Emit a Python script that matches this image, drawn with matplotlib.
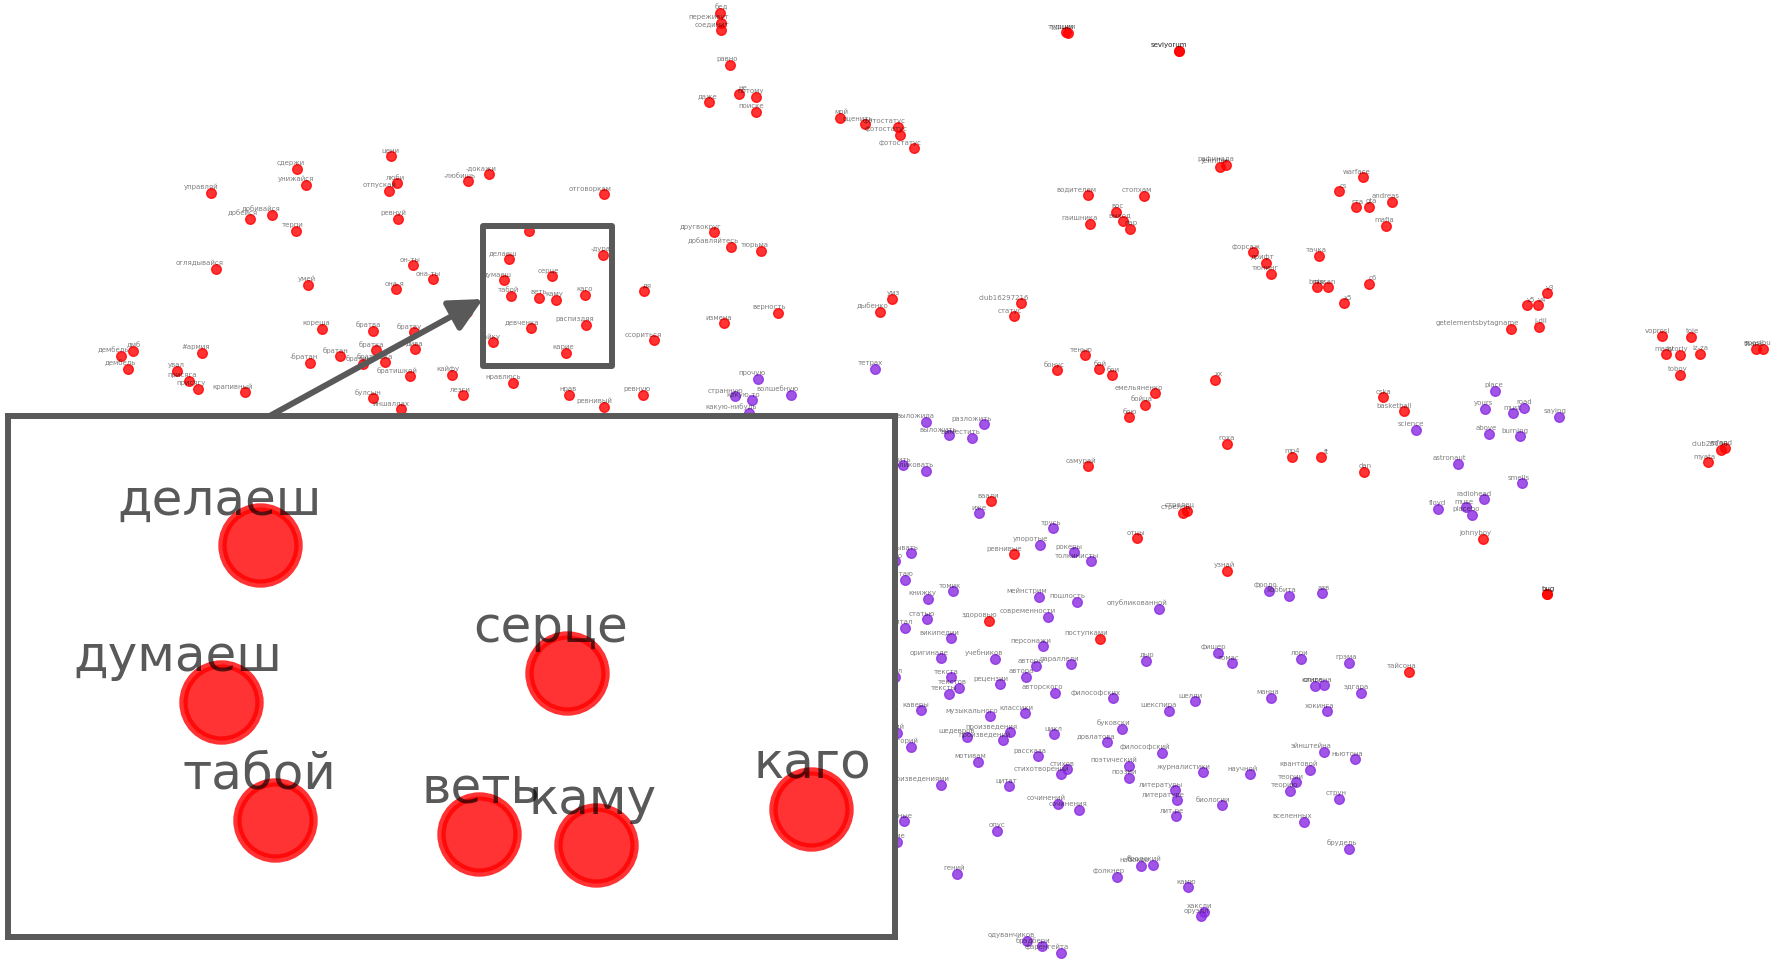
import matplotlib
matplotlib.use("Agg")
import matplotlib.pyplot as plt
from matplotlib.patches import Rectangle

W, H = 1777, 961

# points, in picture pixels
red_words = ["цени", "сдержи", "унижайся", "люби", "отпускай", "-любишь", "управляй", "добейся", "добивайся", "терпи",
             "ревнуй", "оглядывайся", "умей", "он-ты", "она-ты", "она-я", "кореша", "братва", "братву", "братка",
             "-братан", "братан", "братик", "братишка", "дива", "братишкой", "кайфу", "булсын", "иншаллах", "лезги",
             "дембель", "дмб", "дембель", "#армия", "увал", "присяга", "присягу", "крапивный", "малая",
             "бед", "переживут", "соединит", "равно", "даже", "не", "потому", "поиске", "мой", "оценить",
             "фотостатус", "фотостатус", "фотостатус", "-докажи", "отговоркам", "разные", "делаеш", "думаеш", "серце", "табой",
             "веть", "каму", "каго", "-дура", "девченка", "распиздяя", "зайку", "карие", "дя", "ссориться",
             "другвокруг", "добавляйтесь", "тюрьма", "измена", "верность", "дыбенко", "умз", "нравлюсь", "нрав", "ревную",
             "ревнивый", "турции", "турции", "seviyorum", "seviyorum", "Jennifer", "рафинада", "warface", "cs", "гта",
             "gta", "andreas", "mafia", "водителем", "стопхам", "гаишника", "вос", "выход", "пар", "форсаж",
             "дрифт", "тюнинг", "тачка", "bmw", "nissan", "с6", "х5", "club16297216", "статус", "тенью",
             "бонус", "бой", "бои", "хх", "емельяненко", "бойца", "бою", "cska", "basketball", "самурай",
             "гоха", "mp4", "ft", "dan", "ваали", "ревнивые", "отцы", "стрелец", "стрелец", "узнай",
             "здоровью", "поступками", "тайсона", "v3", "v5", "v4", "getelementsbytagname", "j-dil", "johnyboy", "voprosi",
             "toje", "many", "istoriy", "iz-za", "toboy", "thank", "spasibu", "club25190", "yafand", "myata",
             "bug", "bug"]
red_x = [391, 297, 306, 397, 389, 468, 211, 250, 272, 296,
         398, 216, 308, 413, 433, 396, 322, 373, 414, 376,
         310, 340, 363, 385, 415, 410, 452, 373, 401, 463,
         121, 133, 128, 202, 177, 189, 198, 245, 467,
         720, 721, 721, 730, 709, 739, 756, 756, 840, 865,
         898, 900, 914, 489, 604, 529, 509, 503.5, 551.5, 511,
         539.3, 555.5, 585.3, 603, 531, 586, 493, 566, 644, 654,
         714, 731, 761, 724, 778, 880, 892, 513, 569, 643,
         604, 1066, 1068, 1179, 1179, 1220, 1226, 1363, 1339, 1356,
         1369, 1392, 1386, 1088, 1144, 1090, 1116, 1123, 1130, 1253,
         1266, 1271, 1319, 1317, 1328, 1369, 1344, 1021, 1014, 1085,
         1057, 1099, 1112, 1215, 1155, 1145, 1129, 1383, 1404, 1088,
         1227, 1292, 1321, 1364, 991, 1014, 1137, 1187, 1183, 1227,
         989, 1100, 1409, 1547, 1527, 1538, 1511, 1539, 1483, 1662,
         1691, 1666, 1680, 1700, 1680, 1756, 1763, 1721, 1725, 1708,
         1547, 1547]
red_y = [156, 169, 185, 183, 191, 181, 193, 219, 215, 231,
         219, 269, 285, 265, 279, 289, 329, 331, 332, 350,
         363, 356, 364, 362, 349, 376, 375, 398, 409, 395,
         356, 351, 369, 353, 371, 381, 389, 392, 312,
         13, 23, 30, 65, 102, 94, 97, 112, 118, 124,
         127, 135, 148, 174, 194, 231, 258.6, 280, 276, 296,
         298, 299.5, 294.6, 255, 328, 325, 342, 353, 291, 340,
         232, 247, 251, 323, 313, 312, 299, 383, 395, 395,
         407, 32, 33, 51, 51, 167, 165, 177, 191, 207,
         207, 202, 226, 195, 196, 224, 212, 221, 229, 252,
         263, 274, 256, 287, 287, 284, 303, 303, 316, 355,
         370, 369, 375, 380, 393, 405, 417, 397, 411, 466,
         444, 457, 457, 472, 501, 554, 538, 511, 513, 571,
         621, 639, 672, 293, 305, 305, 329, 327, 539, 336,
         337, 354, 355, 354, 375, 349, 349, 450, 448, 462,
         594, 594]

purple_words = ["тетрах", "прочую", "странную", "какую-то", "волшебную", "какую-нибудь", "выложила", "разложить", "выложить", "выместить",
                "запостить", "опубликовать", "иже", "трусь", "упоротые", "рокеры", "толкинисты", "зачитывать", "чтиво", "читаю",
                "томик", "книжку", "мейнстрим", "пошлость", "опубликованной", "статью", "читал", "современности", "википедии", "персонажи",
                "оригинале", "учебников", "авторы", "параллели", "дыр", "фишер", "томас", "фродо", "хоббита", "азв",
                "автора", "текста", "рецензии", "текстов", "тексты", "журнал", "авторского", "философских", "шелли", "шекспира",
                "манна", "каверы", "музыкального", "классики", "сценарий", "аллегорий", "шедевров", "произведения", "произведений", "цикл",
                "буковски", "довлатова", "философский", "рассказа", "мотивам", "стихов", "стихотворений", "поэтический", "поэзии", "журналистики",
                "научной", "произведениями", "цитат", "литературы", "литературе", "биологии", "сочинений", "сочинения", "лит-ре", "важные",
                "чтение", "опус", "гений", "фолкнер", "набоков", "бродский", "камю", "хаксли", "оруэлл", "одуванчиков",
                "брэдбери", "фаренгейта", "лори", "грэма", "кинга", "стивена", "эдгара", "хокинга", "эйнштейна", "ньютона",
                "квантовой", "теории", "теорию", "струн", "вселенных", "брудель", "place", "yours", "must", "road",
                "saying", "science", "above", "burning", "astronaut", "smells", "radiohead", "muse", "placebo", "floyd"]
purple_x = [875, 758, 735, 752, 791, 749, 926, 984, 949, 972,
            903, 926, 979, 1053, 1040, 1074, 1091, 911, 895, 905,
            953, 928, 1039, 1077, 1159, 927, 905, 1048, 951, 1043,
            941, 995, 1036, 1071, 1146, 1218, 1232, 1269, 1289, 1322,
            1026, 951, 1000, 959, 949, 895, 1055, 1113, 1195, 1169,
            1271, 921, 990, 1025, 897, 911, 967, 1010, 1003, 1054,
            1122, 1107, 1162, 1038, 978, 1067, 1061, 1129, 1129, 1203,
            1250, 941, 1009, 1175, 1177, 1222, 1058, 1079, 1176, 904,
            897, 997, 957, 1117, 1141, 1153, 1188, 1204, 1201, 1027,
            1042, 1061, 1301, 1349, 1315, 1324, 1361, 1327, 1324, 1355,
            1310, 1296, 1290, 1339, 1304, 1349, 1495, 1485, 1513, 1524,
            1559, 1416, 1489, 1520, 1458, 1522, 1484, 1466, 1472, 1438]
purple_y = [369, 379, 396, 400, 395, 413, 422, 424, 435, 438,
            465, 471, 513, 528, 545, 552, 561, 553, 561, 580,
            591, 599, 597, 602, 609, 619, 628, 617, 638, 646,
            658, 659, 666, 664, 661, 653, 663, 591, 596, 593,
            677, 677, 684, 688, 694, 677, 693, 698, 701, 711,
            698, 710, 716, 713, 733, 747, 737, 732, 740, 734,
            729, 742, 753, 756, 762, 769, 774, 766, 778, 772,
            774, 785, 786, 790, 800, 805, 804, 810, 816, 821,
            842, 831, 874, 877, 866, 865, 887, 912, 916, 941,
            946, 953, 659, 663, 686, 685, 693, 711, 752, 759,
            770, 782, 791, 799, 822, 849, 391, 409, 413, 408,
            417, 430, 434, 436, 464, 483, 499, 507, 515, 509]

# zoomed part of the map
zoom_x = (474, 597)
zoom_y = (312, 241)
box_color = "#595959"


def draw_words(ax, words, xs, ys, color, size, lw, fontsize, off, alpha):
    ax.scatter(xs, ys, s=size, c=color, alpha=0.8, linewidths=lw, edgecolors=color, zorder=2)
    for word, x, y in zip(words, xs, ys):
        ax.annotate(word, xy=(x, y), xytext=off, textcoords="offset points", ha="right", va="bottom",
                    fontsize=fontsize, color="black", alpha=alpha, annotation_clip=True, clip_on=True, zorder=3)


fig = plt.figure(figsize=(W / 100, H / 100), dpi=100)

ax = fig.add_axes([0, 0, 1, 1])
ax.set_xlim(0, W)
ax.set_ylim(H, 0)
ax.axis("off")
draw_words(ax, red_words, red_x, red_y, "red", 48, 1.0, 5.0, (5.7, 1.8), 0.5)
draw_words(ax, purple_words, purple_x, purple_y, "blueviolet", 48, 1.0, 5.0, (5.7, 1.8), 0.5)

# square around the zoomed words and the arrow to it
ax.add_patch(Rectangle((483, 226), 129, 140, fill=False, ec=box_color, lw=4.3, joinstyle="round", zorder=5))
ax.annotate("", xy=(483, 299), xytext=(266, 418),
            arrowprops=dict(arrowstyle="-|>", color=box_color, lw=4.3, mutation_scale=50, shrinkA=0, shrinkB=0),
            zorder=5)

axins = fig.add_axes([8 / W, 1 - 937 / H, 887 / W, 521 / H], zorder=10)
axins.set_xlim(zoom_x)
axins.set_ylim(zoom_y)
axins.set_xticks([])
axins.set_yticks([])
for spine in axins.spines.values():
    spine.set_color(box_color)
    spine.set_linewidth(4.3)
    spine.set_joinstyle("round")
draw_words(axins, red_words, red_x, red_y, "red", 3000, 6.0, 36, (44, 15), 0.65)
draw_words(axins, purple_words, purple_x, purple_y, "blueviolet", 3000, 6.0, 36, (44, 15), 0.65)

fig.savefig("out.png", dpi=100, facecolor="white")
